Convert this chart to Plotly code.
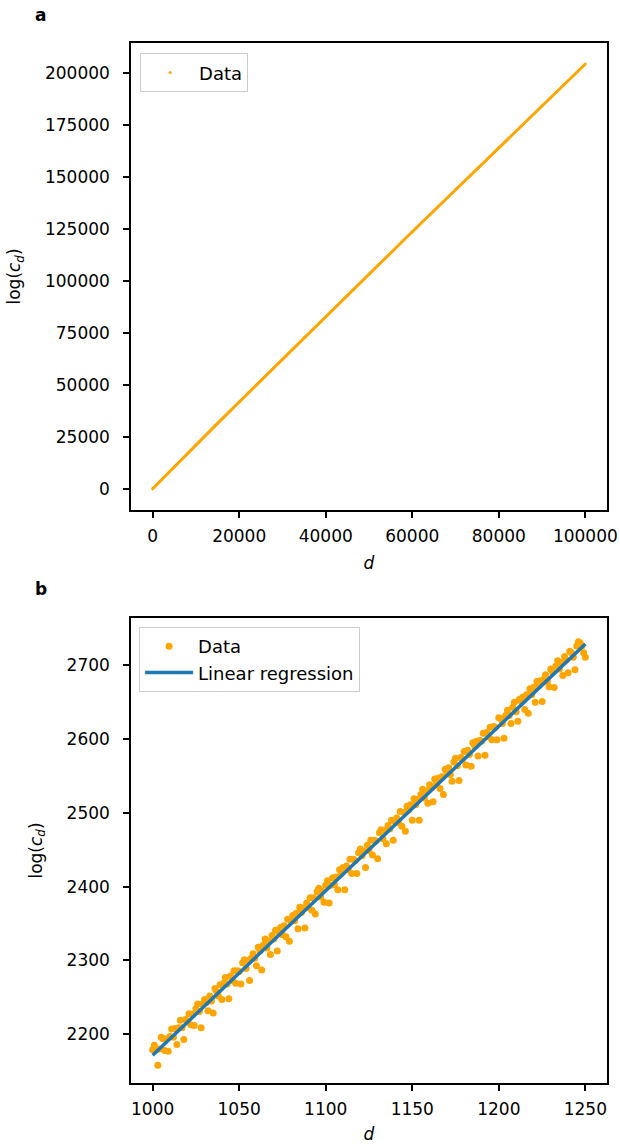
import numpy as np
import plotly.graph_objects as go

# ---------------- data ----------------
# panel a: full range
d_full = [0, 5000, 10000, 15000, 20000, 25000, 30000, 35000, 40000, 45000, 50000,
          55000, 60000, 65000, 70000, 75000, 80000, 85000, 90000, 95000, 100000]
logc_full = [0, 10600, 21000, 31400, 41700, 52000, 62200, 72500, 82700, 92900, 103100,
             113300, 123500, 133600, 143800, 153900, 164000, 174000, 184100, 194100, 204100]

# panel b: d = 1000 .. 1250
d_zoom = list(range(1000, 1251))
logc_zoom = [
    2179, 2185, 2179, 2158, 2180, 2196, 2194, 2178, 2194, 2177,
    2197, 2207, 2196, 2208, 2186, 2209, 2219, 2209, 2193, 2220,
    2217, 2228, 2213, 2227, 2212, 2235, 2241, 2231, 2209, 2241,
    2247, 2243, 2232, 2252, 2245, 2229, 2262, 2258, 2252, 2267,
    2247, 2269, 2277, 2268, 2248, 2279, 2273, 2286, 2269, 2286,
    2285, 2268, 2297, 2301, 2289, 2300, 2273, 2303, 2309, 2303,
    2293, 2318, 2313, 2287, 2321, 2329, 2317, 2326, 2308, 2334,
    2329, 2341, 2313, 2338, 2345, 2335, 2347, 2332, 2356, 2326,
    2353, 2361, 2354, 2364, 2343, 2372, 2365, 2371, 2344, 2378,
    2372, 2385, 2368, 2385, 2363, 2393, 2398, 2386, 2394, 2379,
    2402, 2408, 2378, 2402, 2412, 2403, 2413, 2396, 2423, 2418,
    2426, 2396, 2428, 2423, 2437, 2418, 2437, 2435, 2418, 2446,
    2451, 2442, 2448, 2426, 2456, 2449, 2463, 2443, 2463, 2462,
    2438, 2473, 2477, 2465, 2476, 2458, 2483, 2478, 2490, 2463,
    2488, 2493, 2487, 2502, 2482, 2501, 2475, 2509, 2504, 2511,
    2490, 2519, 2511, 2518, 2490, 2525, 2532, 2520, 2530, 2513,
    2538, 2534, 2515, 2546, 2539, 2547, 2533, 2549, 2525, 2559,
    2555, 2561, 2552, 2543, 2569, 2574, 2564, 2544, 2575, 2573,
    2583, 2565, 2585, 2579, 2563, 2595, 2591, 2597, 2577, 2598,
    2597, 2608, 2578, 2609, 2603, 2616, 2599, 2617, 2616, 2599,
    2629, 2628, 2621, 2601, 2632, 2639, 2632, 2621, 2643, 2650,
    2637, 2624, 2654, 2651, 2657, 2640, 2660, 2635, 2668, 2660,
    2670, 2650, 2678, 2672, 2679, 2651, 2681, 2687, 2678, 2671,
    2695, 2691, 2670, 2699, 2706, 2695, 2704, 2686, 2712, 2707,
    2690, 2719, 2717, 2711, 2694, 2726, 2732, 2730, 2726, 2717,
    2711,
]

x_ticks_a = [0, 20000, 40000, 60000, 80000, 100000]
y_ticks_a = [0, 25000, 50000, 75000, 100000, 125000, 150000, 175000, 200000]
x_ticks_b = [1000, 1050, 1100, 1150, 1200, 1250]
y_ticks_b = [2200, 2300, 2400, 2500, 2600, 2700]

# linear regression on panel b data
slope, intercept = np.polyfit(d_zoom, logc_zoom, 1)
d_fit = [d_zoom[0], d_zoom[-1]]
fit_vals = [slope * v + intercept for v in d_fit]

ORANGE = "#FFA500"
BLUE = "#1f77b4"
FONT = "DejaVu Sans"
FS = 17
LFS = 18

fig = go.Figure()

# panel a
fig.add_trace(go.Scatter(x=d_full, y=logc_full, mode="lines",
                         line=dict(color=ORANGE, width=3), showlegend=False,
                         xaxis="x", yaxis="y", hoverinfo="skip"))
fig.add_trace(go.Scatter(x=d_full, y=logc_full, mode="markers", name="Data",
                         marker=dict(color=ORANGE, size=3), xaxis="x", yaxis="y",
                         legend="legend"))

# panel b
fig.add_trace(go.Scatter(x=d_zoom, y=logc_zoom, mode="markers", name="Data",
                         marker=dict(color=ORANGE, size=7, line=dict(width=0)),
                         xaxis="x2", yaxis="y2", legend="legend2"))
fig.add_trace(go.Scatter(x=d_fit, y=fit_vals, mode="lines", name="Linear regression",
                         line=dict(color=BLUE, width=3.5),
                         xaxis="x2", yaxis="y2", legend="legend2"))

axis_common = dict(showline=True, linecolor="black", linewidth=1.5, mirror=True,
                   ticks="outside", ticklen=6, tickwidth=1.5, tickcolor="black",
                   showgrid=False, zeroline=False, automargin=False,
                   tickfont=dict(family=FONT, size=FS, color="black"))

ytitle = dict(text="log(<i>c</i><sub><i>d</i></sub>)", font=dict(family=FONT, size=FS, color="black"), standoff=20)
xtitle = dict(text="<i>d</i>", font=dict(family=FONT, size=FS, color="black"), standoff=12)

fig.update_layout(
    width=620, height=1144,
    margin=dict(l=131, r=13, t=43, b=61),
    paper_bgcolor="white", plot_bgcolor="white",
    font=dict(family=FONT, size=FS, color="black"),
    xaxis=dict(domain=[0, 1], anchor="y", range=[-5000, 105000],
               tickvals=x_ticks_a, ticktext=[str(v) for v in x_ticks_a],
               title=xtitle, ticklabelstandoff=4, **axis_common),
    yaxis=dict(domain=[0.5510, 1], anchor="x", range=[-10200, 214200],
               tickvals=y_ticks_a, ticktext=[str(v) for v in y_ticks_a],
               title=ytitle, ticklabelstandoff=10, **axis_common),
    xaxis2=dict(domain=[0, 1], anchor="y2", range=[987.5, 1262.5],
                tickvals=x_ticks_b, ticktext=[str(v) for v in x_ticks_b],
                title=xtitle, ticklabelstandoff=4, **axis_common),
    yaxis2=dict(domain=[0, 0.4471], anchor="x2", range=[2134, 2764],
                tickvals=y_ticks_b, ticktext=[str(v) for v in y_ticks_b],
                title=ytitle, ticklabelstandoff=10, **axis_common),
    legend=dict(x=0.019, y=0.990, xanchor="left", yanchor="top", itemwidth=48,
                bgcolor="rgba(255,255,255,0.8)", bordercolor="#cccccc", borderwidth=1,
                font=dict(family=FONT, size=LFS, color="black")),
    legend2=dict(x=0.017, y=0.4385, xanchor="left", yanchor="top", itemwidth=48,
                 bgcolor="rgba(255,255,255,0.8)", bordercolor="#cccccc", borderwidth=1,
                 font=dict(family=FONT, size=LFS, color="black")),
    annotations=[
        dict(text="<b>a</b>", x=-0.205, y=1.027, xref="paper", yref="paper",
             xanchor="left", yanchor="middle", showarrow=False,
             font=dict(family=FONT, size=FS, color="black")),
        dict(text="<b>b</b>", x=-0.205, y=0.475, xref="paper", yref="paper",
             xanchor="left", yanchor="middle", showarrow=False,
             font=dict(family=FONT, size=FS, color="black")),
    ],
)

fig.write_html("out.html")
